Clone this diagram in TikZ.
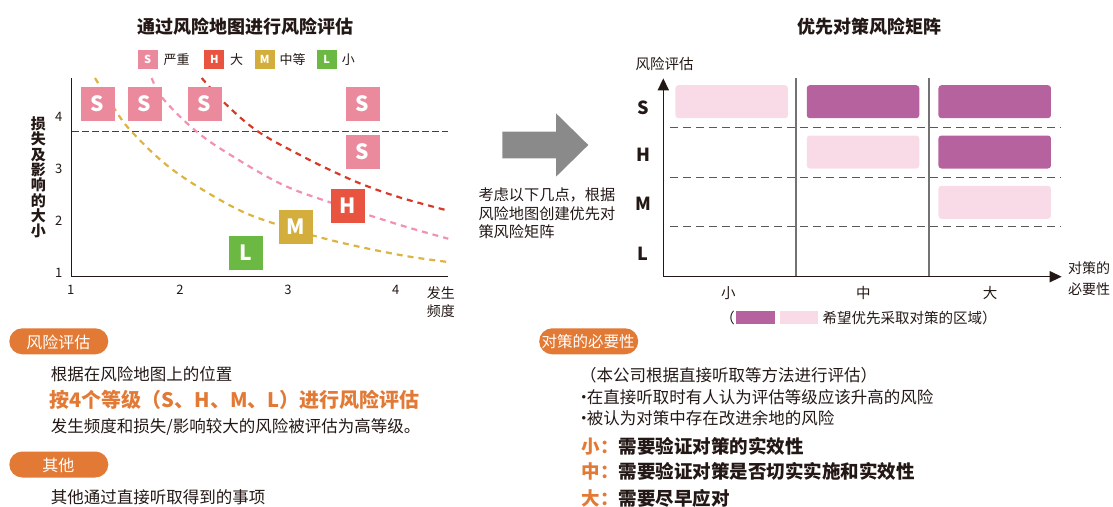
\documentclass[tikz,border=0pt]{standalone}
\usepackage{fontspec}
\setmainfont{Noto Sans CJK SC}
\usetikzlibrary{arrows.meta}
\definecolor{sred}{HTML}{EC8A9D}
\definecolor{hred}{HTML}{E8543F}
\definecolor{mgold}{HTML}{D4AE3D}
\definecolor{lgreen}{HTML}{6BB843}
\definecolor{cyel}{HTML}{DDB441}
\definecolor{cpink}{HTML}{F291B4}
\definecolor{cred}{HTML}{D63B28}
\definecolor{purp}{HTML}{B6629E}
\definecolor{lpink}{HTML}{F9DBE8}
\definecolor{orng}{HTML}{E27A36}
\definecolor{txt}{HTML}{231815}
\definecolor{agray}{HTML}{8A8A8A}
\newcommand\fsz[2]{\fontsize{#1}{#2}\selectfont}
\newcommand\nbul{\hbox to 6pt{\hss•\hss}}
\tikzset{
  lvl/.style={minimum width=34pt, minimum height=34pt, inner sep=0pt, text=white, font=\bfseries\fsz{21}{21}},
  lg/.style={minimum width=20pt, minimum height=19pt, inner sep=0pt, text=white, font=\bfseries\fsz{11}{11}},
  lgt/.style={inner sep=0pt, text=txt, font=\fsz{13}{13}},
  curve/.style={line width=2.2pt, dash pattern=on 6pt off 5pt},
  axis/.style={draw=txt, line width=1.3pt},
  tick/.style={inner sep=0pt, text=txt, font=\fsz{13}{13}},
  title/.style={inner sep=0pt, text=txt, font=\bfseries\fsz{18}{18}},
  pill/.style={fill=orng, rounded corners=13pt, minimum width=99pt, minimum height=26pt, inner sep=0pt},
  pilltext/.style={inner sep=0pt, text=white, font=\fsz{16}{16}},
  body/.style={inner sep=0pt, text=txt, font=\fsz{16.5}{16.5}, anchor=west},
  mbox/.style={rounded corners=3pt, minimum width=112.5pt, minimum height=33pt, inner sep=0pt},
  rowl/.style={inner sep=0pt, text=txt, font=\bfseries\fsz{18}{18}},
  coll/.style={inner sep=0pt, text=txt, font=\fsz{14.5}{14.5}},
  mdash/.style={draw=black!65, line width=1.1pt, dash pattern=on 8pt off 5pt},
  divider/.style={draw=black!55, line width=1.2pt},
  big/.style={inner sep=0pt, font=\bfseries\fsz{18.5}{18.5}, anchor=west},
}
\begin{document}
\begin{tikzpicture}[x=1pt, y=-1pt]
\useasboundingbox (0,0) rectangle (1113,506);
% ---------------- left chart ----------------
\node[title] (t1) at (245,27) {通过风险地图进行风险评估};
% legend
\node[lg, fill=sred] (lgs) at (147.7,59.5) {S};
\node[lgt] (lgst) at (176.7,59.5) {严重};
\node[lg, fill=hred] (lgh) at (214.3,59.5) {H};
\node[lgt] (lght) at (236.7,59.5) {大};
\node[lg, fill=mgold] (lgm) at (264.7,59.5) {M};
\node[lgt] (lgmt) at (292.5,59.5) {中等};
\node[lg, fill=lgreen] (lgl) at (326.7,59.5) {L};
\node[lgt] (lglt) at (348.3,59.5) {小};
% axes
\coordinate (ytop) at (71.7,78.3);
\coordinate (orig) at (71.7,276.7);
\coordinate (xend) at (448.3,276.7);
\coordinate (hd1) at (72,131.7);
\coordinate (hd2) at (448.3,131.7);
\draw[draw=black!75, line width=1pt, dash pattern=on 6.5pt off 3.5pt] (hd1) -- (hd2);
% curves
\draw[curve, cyel] plot[smooth, tension=0.6] coordinates {(95,78) (113.3,107) (131.7,131.7) (173,170) (233,207) (278.7,225) (333,240.7) (400,255) (448,262)};
\draw[curve, cpink] plot[smooth, tension=0.6] coordinates {(151.7,78) (163.3,99) (196.7,131.7) (233.3,156.7) (283.3,185) (333,203.3) (400,225) (448.3,238.7)};
\draw[curve, cred] plot[smooth, tension=0.6] coordinates {(201.7,78) (226.7,105) (258.3,131.7) (300,155) (333.3,171.5) (363.3,184.7) (400,197.5) (448.3,210.7)};
\draw[axis] (ytop) -- (orig) -- (xend);
% level boxes
\node[lvl, fill=sred] (s1) at (97.5,104) {S};
\node[lvl, fill=sred] (s2) at (144.7,104) {S};
\node[lvl, fill=sred] (s3) at (204.7,104) {S};
\node[lvl, fill=sred] (s4) at (362.7,104) {S};
\node[lvl, fill=sred] (s5) at (362.7,152) {S};
\node[lvl, fill=hred] (h1) at (347.5,206) {H};
\node[lvl, fill=mgold] (m1) at (295.5,227) {M};
\node[lvl, fill=lgreen] (l1) at (245.7,253) {L};
% ticks
\node[tick] (x1) at (70.7,290) {1};
\node[tick] (x2) at (180,290) {2};
\node[tick] (x3) at (288,290) {3};
\node[tick] (x4) at (395.7,290) {4};
\node[tick] (y4) at (58.7,116.7) {4};
\node[tick] (y3) at (58.7,169.3) {3};
\node[tick] (y2) at (58.7,221) {2};
\node[tick] (y1) at (58.7,273.3) {1};
\node[inner sep=0pt, text=txt, align=center, font=\bfseries\fsz{15}{15.3}] (ylab) at (38.3,177.5) {损\\失\\及\\影\\响\\的\\大\\小};
\node[inner sep=0pt, text=txt, align=center, font=\fsz{14}{18}] (xlab) at (440.8,302) {发生\\频度};
% ---------------- arrow ----------------
\fill[agray] (502.3,131.7) -- (556,131.7) -- (556,113.3) -- (588.3,145) -- (556,176.7) -- (556,158.3) -- (502.3,158.3) -- cycle;
\node[inner sep=0pt, text=txt, align=left, font=\fsz{15.2}{18.3}, anchor=west] (atext) at (478.3,213.3) {考虑以下几点，根据\\风险地图创建优先对\\策风险矩阵};
% ---------------- matrix ----------------
\node[title] (t2) at (869,27) {优先对策风险矩阵};
\node[inner sep=0pt, text=txt, font=\fsz{14.5}{14.5}] (mylab) at (664.5,64) {风险评估};
\coordinate (mtop) at (663.3,78.3);
\coordinate (morig) at (663.3,276.7);
\coordinate (mxend) at (1061.7,276.7);
\coordinate (dv1t) at (796,78.3);
\coordinate (dv1b) at (796,276.7);
\coordinate (dv2t) at (929,78.3);
\coordinate (dv2b) at (929,276.7);
\draw[divider] (dv1t) -- (dv1b);
\draw[divider] (dv2t) -- (dv2b);
\coordinate (d1a) at (670,127.7); \coordinate (d1b) at (1061,127.7);
\coordinate (d2a) at (670,177.2);   \coordinate (d2b) at (1061,177.2);
\coordinate (d3a) at (670,226.7); \coordinate (d3b) at (1061,226.7);
\draw[mdash] (d1a) -- (d1b);
\draw[mdash] (d2a) -- (d2b);
\draw[mdash] (d3a) -- (d3b);
\node[mbox, fill=lpink] (b11) at (731.7,101.7) {};
\node[mbox, fill=purp] (b12) at (863,101.7) {};
\node[mbox, fill=purp] (b13) at (994.7,101.7) {};
\node[mbox, fill=lpink] (b22) at (863,152) {};
\node[mbox, fill=purp] (b23) at (994.7,152) {};
\node[mbox, fill=lpink] (b33) at (994.7,202.3) {};
\draw[draw=txt, line width=1.5pt, -{Triangle[length=12pt, width=11pt]}] (morig) -- (mtop);
\draw[draw=txt, line width=1.5pt, -{Triangle[length=12pt, width=11pt]}] (morig) -- (mxend);
\node[rowl] (rs) at (643.3,108.3) {S};
\node[rowl] (rh) at (643.3,155) {H};
\node[rowl] (rm) at (643.3,203.3) {M};
\node[rowl] (rl) at (643.3,253.3) {L};
\node[coll] (c1) at (728.3,292.7) {小};
\node[coll] (c2) at (863.3,292.7) {中};
\node[coll] (c3) at (990,292.7) {大};
\node[inner sep=0pt, text=txt, align=left, font=\fsz{14}{21}, anchor=west] (mxlab) at (1068,278.8) {对策的\\必要性};
% legend of matrix
\node[inner sep=0pt, text=txt, font=\fsz{14.5}{14.5}, anchor=east] (lpar) at (735,317.5) {（};
\node[fill=purp, minimum width=39pt, minimum height=13.3pt, inner sep=0pt] (lgd1) at (755.5,317.6) {};
\node[fill=lpink, minimum width=38.3pt, minimum height=13.3pt, inner sep=0pt] (lgd2) at (799.2,317.6) {};
\node[inner sep=0pt, text=txt, font=\fsz{14.5}{14.5}, anchor=west] (lgdt) at (822.5,317.5) {希望优先采取对策的区域）};
% ---------------- bottom left ----------------
\node[pill] (p1) at (58.8,341.3) {};
\node[pilltext] (p1t) at (58.3,342.3) {风险评估};
\node[body] (bl1) at (50.7,374.3) {根据在风险地图上的位置};
\node[body, text=orng, font=\bfseries\fsz{20}{20}] (bl2) at (49.5,400) {按4个等级（S、H、M、L）进行风险评估};
\node[body] (bl3) at (50.7,426.7) {发生频度和损失/影响较大的风险被评估为高等级。};
\node[pill] (p2) at (58.8,464.5) {};
\node[pilltext] (p2t) at (58.3,465) {其他};
\node[body] (bl4) at (50.7,497.3) {其他通过直接听取得到的事项};
% ---------------- bottom right ----------------
\node[pill] (p3) at (588.7,341.3) {};
\node[pilltext, font=\fsz{15.5}{15.5}] (p3t) at (588,342) {对策的必要性};
\node[body] (br1) at (580,375) {（本公司根据直接听取等方法进行评估）};
\node[body] (br2) at (580.7,397.3) {\nbul 在直接听取时有人认为评估等级应该升高的风险};
\node[body] (br3) at (580.7,417.7) {\nbul 被认为对策中存在改进余地的风险};
\node[big] (br4) at (581.7,446) {\textcolor{orng}{小：}\textcolor{txt}{需要验证对策的实效性}};
\node[big] (br5) at (581.7,471.7) {\textcolor{orng}{中：}\textcolor{txt}{需要验证对策是否切实实施和实效性}};
\node[big] (br6) at (581.7,498.3) {\textcolor{orng}{大：}\textcolor{txt}{需要尽早应对}};
\end{tikzpicture}
\end{document}
